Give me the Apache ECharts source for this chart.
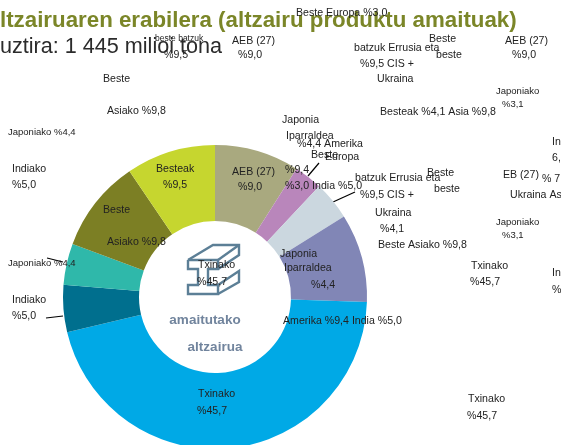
<!DOCTYPE html>
<html><head><meta charset="utf-8">
<style>html,body{margin:0;padding:0;background:#fff}#c{width:561px;height:445px}</style>
<script src="https://cdn.jsdelivr.net/npm/echarts@6/dist/echarts.min.js"></script></head>
<body><div id="c"></div>
<script>
const categories=["AEB (27)","Beste Europa","CIS + Ukraina","Amerika","Txinako","Indiako","Japoniako","Beste Asiako","Besteak"];
const values=[9.0,3.0,4.1,9.4,45.7,5.0,4.4,9.8,9.5];
const sliceColors=["#a9a97f","#b986bb","#cbd7df","#8186b6","#00a9e6","#006f8e","#2fb8aa","#7c7f24","#c6d62f"];
const titleText="ltzairuaren erabilera (altzairu produktu amaituak)";
const subtitleText="uztira: 1 445 milioi tona";
const centerLines=["amaitutako","altzairua"];
// [text, x, y-centre, optional font size]  (annotation text exactly as laid out in the picture)
const notes=[
["beste batzuk",155,39,8.5],["%9,5",164,55],["AEB (27)",232,41],["%9,0",238,55],
["Beste",103,79],["Asiako %9,8",107,111],["Japoniako %4,4",8,132,9.5],
["Beste Europa %3,0",296,13],["batzuk Errusia eta",354,48],["%9,5 CIS +",360,64],["Ukraina",377,79],
["Beste",429,39],["beste",436,55],["AEB (27)",505,41],["%9,0",512,55],
["Japoniako",496,91,9.5],["%3,1",502,104,9.5],["Besteak %4,1 Asia %9,8",380,112],
["Japonia",282,120],["Iparraldea",286,136],["%4,4 Amerika",297,144],["Beste",311,155],["Europa",325,157],
["In",552,142],["6,",552,158],
["Indiako",12,169],["%5,0",12,185],["Besteak",156,169],["%9,5",163,185],["AEB (27)",232,172],["%9,0",238,187],
["%9,4",285,170],["%3,0 India %5,0",285,186],["batzuk Errusia eta",355,178],["%9,5 CIS +",360,195],
["Beste",427,173],["beste",434,189],["EB (27)",503,175],["% 7",542,179],["Ukraina As",510,195],
["Beste",103,210],["Ukraina",375,213],["Japoniako",496,222,9.5],["%3,1",502,235,9.5],["%4,1",380,229],
["Asiako %9,8",107,242],["Beste Asiako %9,8",378,245],["Japonia",280,254],["Iparraldea",284,268],
["Japoniako %4,4",8,263,9.5],["Txinako",198,265],["Txinako",471,266],["In",552,273],
["%45,7",197,282],["%45,7",470,282],["%",552,290],["%4,4",311,285],
["Indiako",12,300],["%5,0",12,316],["Amerika %9,4 India %5,0",283,321],
["Txinako",198,394],["%45,7",197,411],["Txinako",468,399],["%45,7",467,416]
];
// leader lines as [x1,y1,x2,y2]
const leaders=[[47,258,63,262],[46,318,63,316],[319,163,308,176],[355,192,333,202]];
const steel="#5c7f96";
const iconPaths=[
[[188,260],[218,260],[218,269],[208,269],[208,285],[218,285],[218,294],[188,294],[188,285],[198,285],[198,269],[188,269],[188,260]],
[[188,260],[213,245],[239,245],[239,255],[218,269]],
[[218,260],[239,245]],
[[218,285],[239,271],[239,282],[218,294]]
];
const graphics=[
{type:'text',style:{text:titleText,x:0,y:21,verticalAlign:'middle',font:'bold 22.3px "Liberation Sans"',fill:'#7b8628'}},
{type:'text',style:{text:subtitleText,x:0,y:47,verticalAlign:'middle',font:'21.6px "Liberation Sans"',fill:'#2b2b2b'}},
{type:'text',style:{text:centerLines[0],x:205,y:320,align:'center',verticalAlign:'middle',font:'bold 13.5px "Liberation Sans"',fill:'#71849d'}},
{type:'text',style:{text:centerLines[1],x:215,y:347,align:'center',verticalAlign:'middle',font:'bold 13.5px "Liberation Sans"',fill:'#71849d'}}
];
iconPaths.forEach(p=>graphics.push({type:'polyline',shape:{points:p},style:{stroke:steel,lineWidth:2.4,fill:null}}));
leaders.forEach(l=>graphics.push({type:'line',shape:{x1:l[0],y1:l[1],x2:l[2],y2:l[3]},style:{stroke:'#000',lineWidth:1.2}}));
notes.forEach(n=>graphics.push({type:'text',z:20,style:{text:n[0],x:n[1],y:n[2],verticalAlign:'middle',font:(n[3]||10.6)+'px "Liberation Sans"',fill:'#222'}}));
const chart=echarts.init(document.getElementById('c'),null,{renderer:'canvas'});
chart.setOption({animation:false,
 series:[{type:'pie',center:[215,297],radius:[76,152],startAngle:90,clockwise:true,silent:true,
  label:{show:false},labelLine:{show:false},
  data:categories.map((c,i)=>({name:c,value:values[i],itemStyle:{color:sliceColors[i]}}))}],
 graphic:graphics});
</script></body></html>
